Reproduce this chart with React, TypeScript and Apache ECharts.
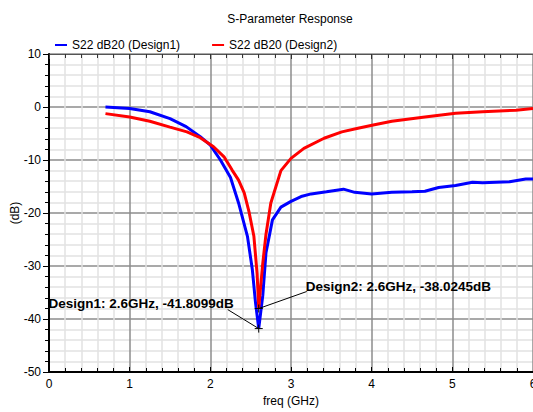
import React, { useEffect, useRef } from "react";
import * as echarts from "echarts";

const chartTitle = "S-Parameter Response";
const seriesNames = ["S22 dB20 (Design1)", "S22 dB20 (Design2)"];
const yAxisTitle = "(dB)";

const freqD1 = [0.7, 0.8, 1.0, 1.25, 1.5, 1.7, 1.875, 2.0, 2.125, 2.25, 2.35, 2.46, 2.52, 2.56, 2.6, 2.65, 2.69, 2.77, 2.875, 3.0, 3.125, 3.25, 3.44, 3.65, 3.79, 4.0, 4.25, 4.5, 4.66, 4.83, 5.04, 5.25, 5.375, 5.71, 5.91, 6.0];
const dbD1 = [0.0, -0.1, -0.3, -0.9, -2.2, -3.7, -5.6, -7.2, -10.0, -13.3, -18.1, -24.4, -30.6, -36.9, -41.81, -35.6, -27.5, -21.3, -18.9, -17.8, -16.9, -16.4, -16.0, -15.5, -16.1, -16.4, -16.1, -16.0, -15.9, -15.2, -14.8, -14.2, -14.3, -14.1, -13.6, -13.6];

const freqD2 = [0.7, 1.0, 1.25, 1.5, 1.71, 1.875, 2.04, 2.17, 2.27, 2.35, 2.42, 2.48, 2.54, 2.58, 2.6, 2.62, 2.65, 2.69, 2.75, 2.875, 3.0, 3.16, 3.41, 3.63, 3.83, 4.02, 4.25, 4.66, 5.04, 5.375, 5.79, 6.0];
const dbD2 = [-1.25, -1.9, -2.7, -3.8, -4.7, -5.8, -7.5, -9.4, -11.9, -13.8, -16.2, -19.8, -24.4, -31.5, -38.02, -34.5, -29.5, -24.0, -18.1, -12.0, -9.7, -7.8, -5.9, -4.7, -4.0, -3.4, -2.7, -1.9, -1.2, -0.9, -0.6, -0.3];

const markerFreq = [2.6, 2.6];
const markerDb = [-41.8099, -38.0245];
const markerText = ["Design1: 2.6GHz, -41.8099dB", "Design2: 2.6GHz, -38.0245dB"];

const FONT = "'Liberation Sans', Arial, sans-serif";

export default function App() {
  const ref = useRef<HTMLDivElement>(null);
  useEffect(() => {
    if (!ref.current) return;
    document.body.style.margin = "0";
    const chart = echarts.init(ref.current, null, { renderer: "svg" });
    const d1 = freqD1.map((f, i) => [f, dbD1[i]]);
    const d2 = freqD2.map((f, i) => [f, dbD2[i]]);
    const markers = markerFreq.map((f, i) => [f, markerDb[i]]);

    const xCommon = {
      type: "value" as const,
      min: 0,
      max: 6,
      interval: 1,
    };

    chart.setOption({
      animation: false,
      backgroundColor: "#ffffff",
      textStyle: { fontFamily: FONT },
      title: {
        text: chartTitle,
        left: 285,
        top: 8,
        textAlign: "center",
        textStyle: { fontSize: 12, fontWeight: "normal", color: "#000", fontFamily: FONT },
      },
      legend: {
        left: 50,
        top: 34,
        itemWidth: 12,
        itemHeight: 2,
        itemGap: 32,
        icon: "rect",
        textStyle: { fontSize: 12, color: "#000", fontFamily: FONT },
        data: seriesNames,
      },
      graphic: [
        {
          type: "text",
          x: 15,
          y: 213,
          rotation: Math.PI / 2,
          style: {
            text: yAxisTitle,
            fill: "#000",
            font: `12px ${FONT}`,
            align: "center",
            verticalAlign: "middle",
          },
        },
      ],
      grid: { left: 49, right: 0, top: 54, bottom: 40, outerBoundsMode: "none", containLabel: false },
      xAxis: [
        {
          ...xCommon,
          position: "bottom",
          name: "freq (GHz)",
          nameLocation: "middle",
          nameGap: 19,
          nameTextStyle: { fontSize: 12, color: "#000", fontFamily: FONT },
          axisLine: { show: true, onZero: false, lineStyle: { color: "#000", width: 2 } },
          axisTick: { show: true, inside: true, length: 5, lineStyle: { color: "#000" } },
          minorTick: { show: true, splitNumber: 5, length: 4, lineStyle: { color: "#000" } },
          axisLabel: { fontSize: 12, color: "#000", margin: 6, fontFamily: FONT },
          splitLine: { show: true, lineStyle: { color: "#8c8c8c", width: 1.5 } },
          minorSplitLine: { show: true, lineStyle: { color: "#e2e2e2", width: 1.5 } },
        },
        {
          ...xCommon,
          position: "top",
          axisLine: { show: true, onZero: false, lineStyle: { color: "#555", width: 1 } },
          axisTick: { show: true, inside: true, length: 5, lineStyle: { color: "#333" } },
          minorTick: { show: true, splitNumber: 5, length: 4, lineStyle: { color: "#333" } },
          axisLabel: { show: false },
          splitLine: { show: false },
        },
      ],
      yAxis: {
        type: "value",
        min: -50,
        max: 10,
        interval: 10,
        axisLine: { show: true, onZero: false, lineStyle: { color: "#000", width: 2 } },
        axisTick: { show: true, inside: false, length: 6, lineStyle: { color: "#000" } },
        minorTick: { show: true, splitNumber: 5, length: 4, lineStyle: { color: "#000" } },
        axisLabel: { fontSize: 12, color: "#000", margin: 8, fontFamily: FONT },
        splitLine: { show: true, lineStyle: { color: "#8c8c8c", width: 1.5 } },
        minorSplitLine: { show: true, lineStyle: { color: "#e2e2e2", width: 1.5 } },
      },
      series: [
        {
          name: seriesNames[0],
          type: "line",
          data: d1,
          showSymbol: false,
          symbol: "none",
          lineStyle: { color: "#0000ff", width: 3 },
          itemStyle: { color: "#0000ff" },
          z: 3,
        },
        {
          name: seriesNames[1],
          type: "line",
          data: d2,
          showSymbol: false,
          symbol: "none",
          lineStyle: { color: "#ff0000", width: 3 },
          itemStyle: { color: "#ff0000" },
          z: 4,
        },
        {
          type: "custom",
          coordinateSystem: "cartesian2d",
          data: markers,
          z: 10,
          renderItem: (params: any, api: any) => {
            const p = api.coord([api.value(0), api.value(1)]);
            const i = params.dataIndex;
            const lead = i === 0 ? [-31, -19] : [48, -17];
            const txt = i === 0
              ? { x: p[0] - 25, y: p[1] - 25, align: "right" }
              : { x: p[0] + 47, y: p[1] - 22, align: "left" };
            const ls = { stroke: "#000", lineWidth: 1 };
            return {
              type: "group",
              children: [
                { type: "line", shape: { x1: p[0] - 4, y1: p[1], x2: p[0] + 4, y2: p[1] }, style: ls },
                { type: "line", shape: { x1: p[0], y1: p[1] - 4, x2: p[0], y2: p[1] + 4 }, style: ls },
                { type: "line", shape: { x1: p[0], y1: p[1], x2: p[0] + lead[0], y2: p[1] + lead[1] }, style: ls },
                {
                  type: "text",
                  x: txt.x,
                  y: txt.y,
                  style: {
                    text: markerText[i],
                    fill: "#000",
                    font: `bold 13.5px ${FONT}`,
                    align: txt.align,
                    verticalAlign: "middle",
                  },
                },
              ],
            };
          },
        },
      ],
    });
    return () => chart.dispose();
  }, []);
  return <div ref={ref} style={{ width: 533, height: 412 }} />;
}
